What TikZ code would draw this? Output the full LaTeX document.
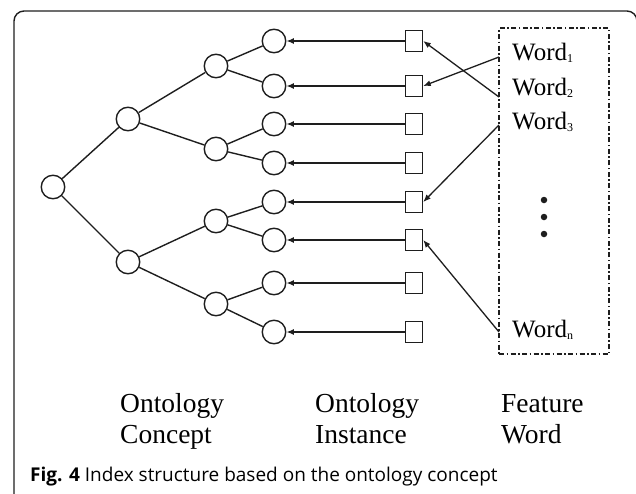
\documentclass[tikz,border=0pt]{standalone}
\usepackage{fontspec}
\setmainfont{Liberation Serif}
\newfontfamily\capfont{Open Sans}
\usetikzlibrary{arrows.meta}
\definecolor{ink}{HTML}{1E1E1E}
\newcommand{\wsub}[1]{\raisebox{-1.5pt}{\fontsize{12}{12}\selectfont #1}}
\begin{document}
\begin{tikzpicture}[x=1pt,y=-1pt,
  cnode/.style={circle,draw=ink,line width=1.4pt,minimum size=23.5pt,inner sep=0pt},
  inode/.style={rectangle,draw=ink,line width=1.4pt,minimum width=17pt,minimum height=21pt,inner sep=0pt},
  edge/.style={draw=ink,line width=1.4pt},
  arr/.style={draw=ink,line width=1.3pt,-{Latex[length=7.5pt,width=6pt]}},
  wordtxt/.style={anchor=west,inner sep=0pt,font=\fontsize{25}{27}\selectfont},
  lbl/.style={anchor=base west,inner sep=0pt,font=\fontsize{27.5}{31}\selectfont}]
\useasboundingbox (0,0) rectangle (636,493);
% frame
\draw[ink,line width=1.4pt,rounded corners=10pt] (14,520) -- (14,11) -- (637,11) -- (637,520);
% concept tree
\node[cnode] (r) at (53,187) {};
\node[cnode] (a) at (128,119) {};
\node[cnode] (b) at (128,262) {};
\node[cnode] (aa) at (216,66) {};
\node[cnode] (ab) at (216,149) {};
\node[cnode] (ba) at (216,221) {};
\node[cnode] (bb) at (216,304) {};
\foreach \i/\y in {1/41,2/86,3/124,4/163,5/202,6/240,7/283,8/332}{
  \node[cnode] (c\i) at (274,\y) {};
  \node[inode] (s\i) at (414,\y) {};
  \draw[arr] (s\i.west) -- (c\i.east);
}
\draw[edge] (r) -- (a) (r) -- (b)
  (a) -- (aa) (a) -- (ab) (b) -- (ba) (b) -- (bb)
  (aa) -- (c1) (aa) -- (c2) (ab) -- (c3) (ab) -- (c4)
  (ba) -- (c5) (ba) -- (c6) (bb) -- (c7) (bb) -- (c8);
% feature word box
\node[draw=ink,line width=1.2pt,dash pattern=on 5pt off 2.5pt on 1.5pt off 2.5pt,
  minimum width=110pt,minimum height=326pt,inner sep=0pt] (fw) at (554,191) {};
\node[wordtxt] (w1) at (512,53) {Word\wsub{1}};
\node[wordtxt] (w2) at (512,88) {Word\wsub{2}};
\node[wordtxt] (w3) at (512,122) {Word\wsub{3}};
\node[wordtxt] (wn) at (512,330) {Word\wsub{n}};
\foreach \y [count=\k] in {200,217,234}{
  \node[circle,fill=ink,inner sep=0pt,minimum size=6.5pt] (dot\k) at (544,\y) {};
}
\coordinate (p1) at (499,57);
\coordinate (p2) at (499,97);
\coordinate (p3) at (499,125);
\coordinate (pn) at (499,332);
\draw[arr] (p1) -- (s2.east);
\draw[arr] (p2) -- (s1.east);
\draw[arr] (p3) -- (s5.east);
\draw[arr] (pn) -- (s6.east);
% column labels
\node[lbl] (l1a) at (120,412) {Ontology};
\node[lbl] (l1b) at (120,443) {Concept};
\node[lbl] (l2a) at (315,412) {Ontology};
\node[lbl] (l2b) at (315,443) {Instance};
\node[lbl] (l3a) at (501,412) {Feature};
\node[lbl] (l3b) at (501,443) {Word};
% caption
\node[anchor=west,inner sep=0pt,font=\capfont\fontsize{19}{21}\selectfont] (cap) at (30,477)
  {\textbf{Fig. 4} Index structure based on the ontology concept};
\end{tikzpicture}
\end{document}
